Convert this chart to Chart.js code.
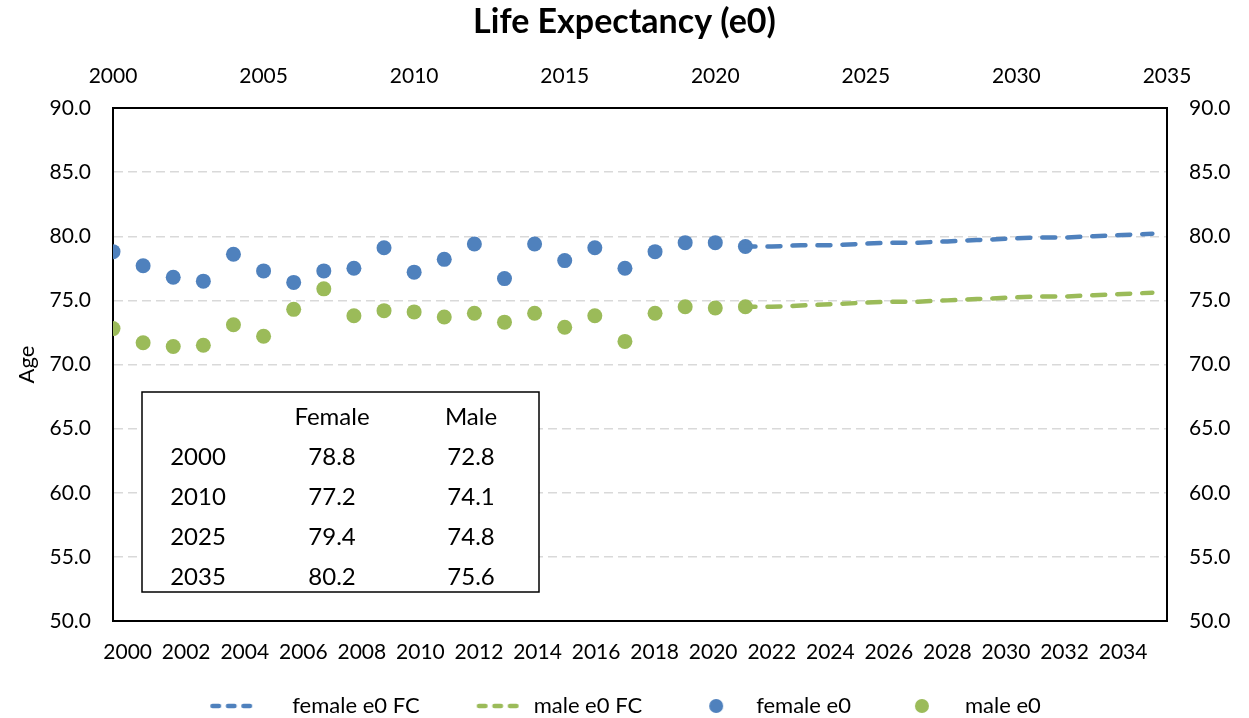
<!DOCTYPE html>
<html>
<head>
<meta charset="utf-8">
<title>Life Expectancy (e0)</title>
<script src="https://cdn.jsdelivr.net/npm/chart.js@4.4.1/dist/chart.umd.min.js"></script>
<style>
    body { margin: 0; background: #fff; }
    #wrap { width: 1249px; height: 718px; }
</style>
</head>
<body>
<div id="wrap"><canvas id="lifeChart" width="1249" height="718"></canvas></div>
<script>
// Category axis (bottom) - one slot per year
const axisYears = ['2000', '2001', '2002', '2003', '2004', '2005', '2006', '2007', '2008', '2009',
    '2010', '2011', '2012', '2013', '2014', '2015', '2016', '2017', '2018', '2019',
    '2020', '2021', '2022', '2023', '2024', '2025', '2026', '2027', '2028', '2029',
    '2030', '2031', '2032', '2033', '2034', '2035'];

// Observed values (scatter, top/right axes)
const obsYears = [2000, 2001, 2002, 2003, 2004, 2005, 2006, 2007, 2008, 2009, 2010,
    2011, 2012, 2013, 2014, 2015, 2016, 2017, 2018, 2019, 2020, 2021];
const femaleE0 = [78.8, 77.7, 76.8, 76.5, 78.6, 77.3, 76.4, 77.3, 77.5, 79.1, 77.2,
    78.2, 79.4, 76.7, 79.4, 78.1, 79.1, 77.5, 78.8, 79.5, 79.5, 79.2];
const maleE0 = [72.8, 71.7, 71.4, 71.5, 73.1, 72.2, 74.3, 75.9, 73.8, 74.2, 74.1,
    73.7, 74.0, 73.3, 74.0, 72.9, 73.8, 71.8, 74.0, 74.5, 74.4, 74.5];

// Forecast (dashed lines, bottom category axis)
const fcYears = ['2021', '2022', '2023', '2024', '2025', '2026', '2027', '2028',
    '2029', '2030', '2031', '2032', '2033', '2034', '2035'];
const femaleFC = [79.2, 79.2, 79.3, 79.3, 79.4, 79.5, 79.5, 79.6, 79.7, 79.8, 79.9, 79.9, 80.0, 80.1, 80.2];
const maleFC = [74.5, 74.5, 74.6, 74.7, 74.8, 74.9, 74.9, 75.0, 75.1, 75.2, 75.3, 75.3, 75.4, 75.5, 75.6];

// Summary table inside the plot
const tableHead = ['', 'Female', 'Male'];
const tableYears = ['2000', '2010', '2025', '2035'];
const tableFemale = [78.8, 77.2, 79.4, 80.2];
const tableMale = [72.8, 74.1, 74.8, 75.6];

const BLUE = '#4f81bd';
const GREEN = '#9bbb59';
const FONT = 'Lato, "Open Sans", sans-serif';
const ICON_W = 73;

// small legend icons (used as point style images), `at` = where the mark sits
function makeIcon(color, kind, at) {
    const c = document.createElement('canvas');
    c.width = ICON_W;
    c.height = 20;
    const g = c.getContext('2d');
    g.strokeStyle = color;
    g.fillStyle = color;
    if (kind === 'dash') {
        g.lineWidth = 4.5;
        g.lineCap = 'round';
        g.setLineDash([6.5, 9]);
        g.beginPath();
        g.moveTo(at + 2.25, 10);
        g.lineTo(at + 40, 10);
        g.stroke();
    } else {
        g.beginPath();
        g.arc(at, 10, 7, 0, Math.PI * 2);
        g.fill();
    }
    return c;
}
const icons = [
    makeIcon(BLUE, 'dash', 2),
    makeIcon(GREEN, 'dash', 27),
    makeIcon(BLUE, 'dot', 44),
    makeIcon(GREEN, 'dot', 41)
];

const tablePlugin = {
    id: 'summaryTable',
    afterDatasetsDraw(chart) {
        const { ctx, chartArea } = chart;
        const left = chartArea.left + 29;
        const top = chartArea.top + 284;
        const w = 397;
        const h = 200;
        ctx.save();
        ctx.fillStyle = '#fff';
        ctx.fillRect(left, top, w, h);
        ctx.strokeStyle = '#000';
        ctx.lineWidth = 1.5;
        ctx.strokeRect(left, top, w, h);

        ctx.fillStyle = '#000';
        ctx.font = '24px ' + FONT;
        ctx.textAlign = 'center';
        ctx.textBaseline = 'middle';
        const cols = [left + 56, left + 190, left + 329];
        const rowY = i => top + 25 + i * 40;
        ctx.fillText(tableHead[1], cols[1], rowY(0));
        ctx.fillText(tableHead[2], cols[2], rowY(0));
        tableYears.forEach((yr, i) => {
            ctx.fillText(yr, cols[0], rowY(i + 1));
            ctx.fillText(tableFemale[i].toFixed(1), cols[1], rowY(i + 1));
            ctx.fillText(tableMale[i].toFixed(1), cols[2], rowY(i + 1));
        });
        ctx.restore();
    }
};

const yTicks = {
    color: '#000',
    font: { family: FONT, size: 21 },
    padding: 22,
    stepSize: 5,
    callback: v => Number(v).toFixed(1)
};

const ctx = document.getElementById('lifeChart').getContext('2d');
const chart = new Chart(ctx, {
    type: 'line',
    data: {
        labels: axisYears,
        datasets: [
            {
                label: 'female e0 FC',
                data: fcYears.map((yr, i) => ({ x: yr, y: femaleFC[i] })),
                xAxisID: 'x',
                yAxisID: 'y',
                borderColor: BLUE,
                backgroundColor: BLUE,
                borderWidth: 4.5,
                borderCapStyle: 'round',
                borderDash: [13, 12],
                pointRadius: 0,
                fill: false
            },
            {
                label: 'male e0 FC',
                data: fcYears.map((yr, i) => ({ x: yr, y: maleFC[i] })),
                xAxisID: 'x',
                yAxisID: 'y',
                borderColor: GREEN,
                backgroundColor: GREEN,
                borderWidth: 4.5,
                borderCapStyle: 'round',
                borderDash: [13, 12],
                pointRadius: 0,
                fill: false
            },
            {
                type: 'scatter',
                label: 'female e0',
                data: obsYears.map((yr, i) => ({ x: yr, y: femaleE0[i] })),
                xAxisID: 'x2',
                yAxisID: 'y2',
                backgroundColor: BLUE,
                borderColor: BLUE,
                pointRadius: 7.5,
                pointBorderWidth: 0
            },
            {
                type: 'scatter',
                label: 'male e0',
                data: obsYears.map((yr, i) => ({ x: yr, y: maleE0[i] })),
                xAxisID: 'x2',
                yAxisID: 'y2',
                backgroundColor: GREEN,
                borderColor: GREEN,
                pointRadius: 7.5,
                pointBorderWidth: 0
            }
        ]
    },
    options: {
        responsive: false,
        animation: false,
        layout: { padding: { left: 0, right: 0, top: 0, bottom: -9 } },
        plugins: {
            title: {
                display: true,
                text: 'Life Expectancy (e0)',
                color: '#000',
                font: { family: FONT, size: 34, weight: 'bold' },
                padding: { top: 1.6, bottom: 4 }
            },
            legend: {
                position: 'bottom',
                labels: {
                    color: '#000',
                    font: { family: FONT, size: 22 },
                    usePointStyle: true,
                    pointStyleWidth: ICON_W,
                    padding: 30,
                    generateLabels(chart) {
                        const items = Chart.defaults.plugins.legend.labels.generateLabels(chart);
                        items.forEach(it => { it.pointStyle = icons[it.datasetIndex]; });
                        return items;
                    }
                }
            },
            tooltip: { enabled: false }
        },
        scales: {
            x: {
                type: 'category',
                position: 'bottom',
                offset: true,
                grid: { display: false, drawTicks: false },
                border: { display: true, color: '#000', width: 2 },
                ticks: {
                    color: '#000',
                    font: { family: FONT, size: 21 },
                    autoSkip: false,
                    maxRotation: 0,
                    padding: 19,
                    callback(val, i) { return i % 2 === 0 ? this.getLabelForValue(val) : ''; }
                },
                afterFit(scale) { scale.height = 44; }
            },
            x2: {
                type: 'linear',
                position: 'top',
                min: 2000,
                max: 2035,
                grid: { display: false, drawTicks: false },
                border: { display: true, color: '#000', width: 2 },
                ticks: {
                    color: '#000',
                    font: { family: FONT, size: 21 },
                    stepSize: 5,
                    padding: 19,
                    maxRotation: 0,
                    callback: v => String(v)
                },
                afterFit(scale) { scale.height = 61.6; }
            },
            y: {
                type: 'linear',
                position: 'left',
                min: 50,
                max: 90,
                title: {
                    display: true,
                    text: 'Age',
                    color: '#000',
                    font: { family: FONT, size: 22 },
                    padding: { top: 14, bottom: 0 }
                },
                grid: { color: '#d9d9d9', lineWidth: 1.5, drawTicks: false },
                border: { display: true, color: '#000', width: 2, dash: [9, 5] },
                ticks: yTicks,
                afterFit(scale) { scale.width = 113; }
            },
            y2: {
                type: 'linear',
                position: 'right',
                min: 50,
                max: 90,
                grid: { display: false, drawTicks: false },
                border: { display: true, color: '#000', width: 2 },
                ticks: yTicks,
                afterFit(scale) { scale.width = 82; }
            }
        }
    },
    plugins: [tablePlugin]
});
</script>
</body>
</html>
